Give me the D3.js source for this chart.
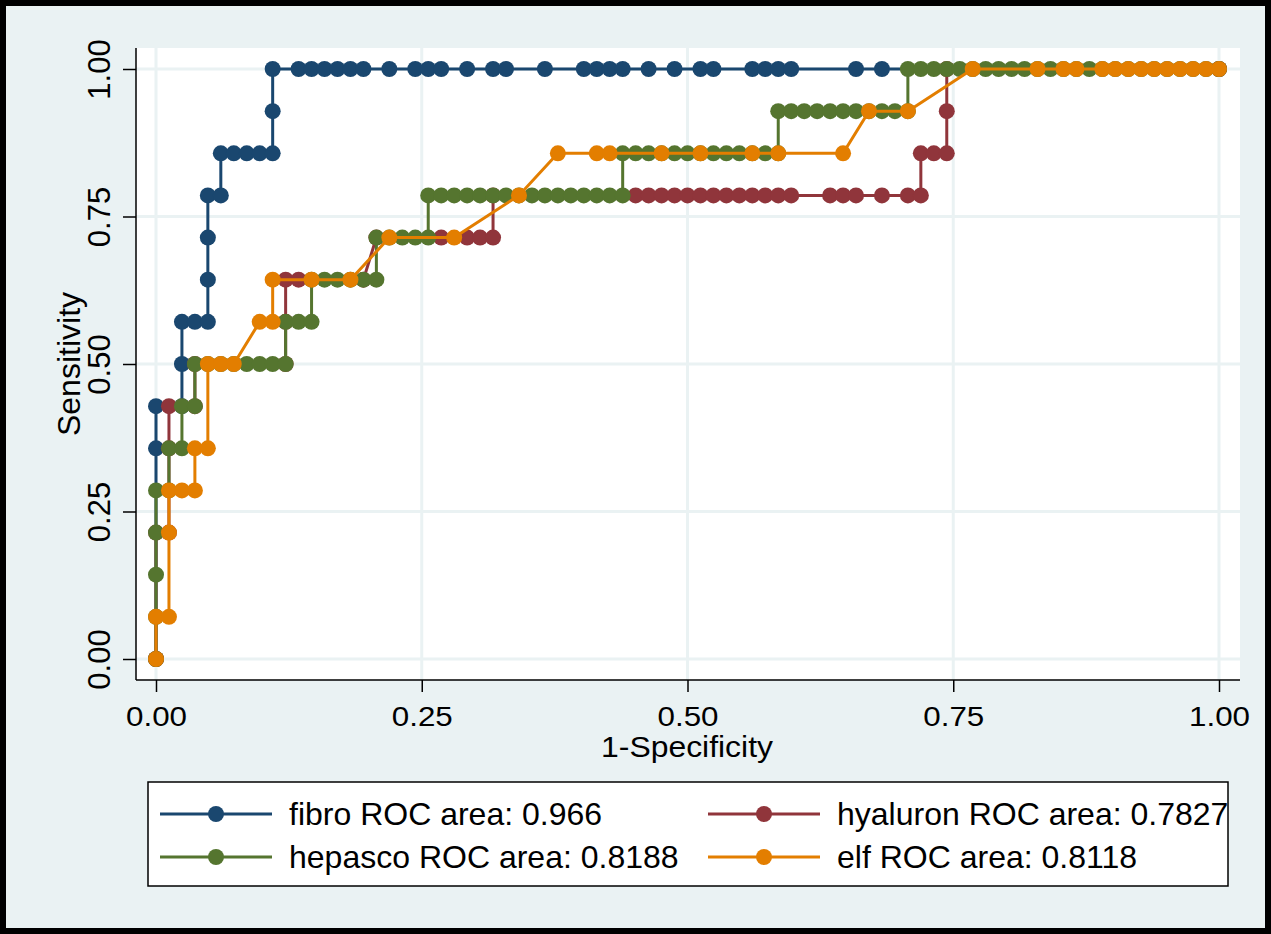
<!DOCTYPE html>
<html>
<head>
<meta charset="utf-8">
<script src="https://cdn.jsdelivr.net/npm/d3@7"></script>
<style>
    body { margin: 0; background: #fff; }
    text { font-family: "Liberation Sans", Arial, sans-serif; fill: #000; }
</style>
</head>
<body>
<div id="chart"></div>
<script>
// counts: 82 negatives, 14 positives
const NEG = 82;
const POS = 14;

const fibroFP = [0,0,0,2,2,2,3,4,4,4,4,5,5,6,7,8,9,9,9,
    11,12,13,14,15,16,18,20,21,22,24,26,27,30,33,34,35,36,38,40,42,43,46,47,48,49,54,56,82];
const fibroTP = [0,5,6,6,7,8,8,8,9,10,11,11,12,12,12,12,12,13,14,
    14,14,14,14,14,14,14,14,14,14,14,14,14,14,14,14,14,14,14,14,14,14,14,14,14,14,14,14,14];

const hyalFP = [0,0,1,1,1,3,3,10,10,10,11,16,17,22,24,25,26,26,
    37,38,39,40,41,42,43,44,45,46,47,48,49,
    52,53,54,56,58,59,
    59,60,61,61,61,82];
const hyalTP = [0,3,3,5,6,6,7,7,8,9,9,9,10,10,10,10,10,11,
    11,11,11,11,11,11,11,11,11,11,11,11,11,
    11,11,11,11,11,11,
    12,12,12,13,14,14];

const hepFP = [0,0,0,0,0,
    1,1,2,2,3,
    3,4,5,6,7,8,9,10,
    10,11,12,
    12,13,14,15,16,17,
    17,18,19,20,21,
    21,22,23,24,25,26,27,28,29,30,31,32,33,34,35,36,
    36,37,38,39,40,41,42,43,44,45,46,47,48,
    48,49,50,51,52,53,54,55,56,57,58,
    58,59,60,61,62,63,64,65,66,67,68,69,70,71,72,73,74,75,76,77,78,79,80,81,82];
const hepTP = [0,1,2,3,4,
    4,5,5,6,6,
    7,7,7,7,7,7,7,7,
    8,8,8,
    9,9,9,9,9,9,
    10,10,10,10,10,
    11,11,11,11,11,11,11,11,11,11,11,11,11,11,11,11,
    12,12,12,12,12,12,12,12,12,12,12,12,12,
    13,13,13,13,13,13,13,13,13,13,13,
    14,14,14,14,14,14,14,14,14,14,14,14,14,14,14,14,14,14,14,14,14,14,14,14,14];

const elfFP = [0,0,1,1,1,2,3,3,4,4,5,6,8,9,9,12,15,18,23,28,
    31,34,35,39,42,46,48,53,55,58,63,68,70,71,
    73,74,75,76,77,78,79,80,81,82];
const elfTP = [0,1,1,3,4,4,4,5,5,7,7,7,8,8,9,9,9,10,10,11,
    12,12,12,12,12,12,12,12,13,13,14,14,14,14,
    14,14,14,14,14,14,14,14,14,14];

const seriesNames = ["fibro", "hyaluron", "hepasco", "elf"];
const seriesAreas = ["0.966", "0.7827", "0.8188", "0.8118"];
const seriesFP = [fibroFP, hyalFP, hepFP, elfFP];
const seriesTP = [fibroTP, hyalTP, hepTP, elfTP];
const seriesColors = ["#1A476F", "#90353B", "#55752F", "#E37E00"];

const tickValues = [0, 0.25, 0.5, 0.75, 1];

const width = 1271, height = 934;
const plot = {left: 136, right: 1240, top: 48, bottom: 680};

const svg = d3.select("#chart").append("svg")
    .attr("width", width)
    .attr("height", height);

// graph region + black frame
svg.append("rect")
    .attr("x", 3).attr("y", 3)
    .attr("width", width - 6).attr("height", height - 6)
    .attr("fill", "#EAF2F3")
    .attr("stroke", "#000")
    .attr("stroke-width", 6);

svg.append("rect")
    .attr("x", plot.left).attr("y", plot.top)
    .attr("width", plot.right - plot.left)
    .attr("height", plot.bottom - plot.top)
    .attr("fill", "#fff");

const x = d3.scaleLinear().domain([0, 1]).range([156, 1219]);
const y = d3.scaleLinear().domain([0, 1]).range([659, 69]);

// grid
svg.append("g").selectAll("line")
    .data(tickValues)
    .enter().append("line")
    .attr("x1", plot.left).attr("x2", plot.right)
    .attr("y1", d => y(d)).attr("y2", d => y(d))
    .attr("stroke", "#EAF2F3").attr("stroke-width", 3);
svg.append("g").selectAll("line")
    .data(tickValues)
    .enter().append("line")
    .attr("y1", plot.top).attr("y2", plot.bottom)
    .attr("x1", d => x(d)).attr("x2", d => x(d))
    .attr("stroke", "#EAF2F3").attr("stroke-width", 3);

// axes
const xAxis = svg.append("g")
    .attr("transform", `translate(0,${plot.bottom})`)
    .call(d3.axisBottom(x).tickValues(tickValues).tickFormat(d3.format(".2f"))
        .tickSize(12).tickSizeOuter(0));
xAxis.select(".domain").remove();
xAxis.selectAll("line").attr("stroke", "#000").attr("stroke-width", 1.5);
xAxis.selectAll("text")
    .attr("y", 46).attr("dy", 0)
    .attr("transform", "scale(1.12,1)")
    .style("font-size", "28px")
    .style("font-family", "Liberation Sans, Arial, sans-serif");

const yAxis = svg.append("g")
    .attr("transform", `translate(${plot.left},0)`)
    .call(d3.axisLeft(y).tickValues(tickValues).tickFormat(d3.format(".2f"))
        .tickSize(13).tickSizeOuter(0));
yAxis.select(".domain").remove();
yAxis.selectAll("line").attr("stroke", "#000").attr("stroke-width", 1.5);
yAxis.selectAll("text")
    .attr("x", 0).attr("dy", 0)
    .attr("text-anchor", "middle")
    .attr("transform", "translate(-26,0) rotate(-90)")
    .style("font-size", "31px")
    .style("font-family", "Liberation Sans, Arial, sans-serif");

svg.append("line")
    .attr("x1", plot.left).attr("x2", plot.left)
    .attr("y1", plot.top).attr("y2", plot.bottom)
    .attr("stroke", "#000").attr("stroke-width", 1.5);
svg.append("line")
    .attr("x1", plot.left).attr("x2", plot.right)
    .attr("y1", plot.bottom).attr("y2", plot.bottom)
    .attr("stroke", "#000").attr("stroke-width", 1.5);

svg.append("text")
    .attr("transform", "translate(687,757) scale(1.1,1)")
    .attr("text-anchor", "middle")
    .style("font-size", "29px")
    .text("1-Specificity");

svg.append("text")
    .attr("transform", "translate(80,364) rotate(-90)")
    .attr("text-anchor", "middle")
    .style("font-size", "32px")
    .text("Sensitivity");

// curves
const line = d3.line().x(d => x(d[0])).y(d => y(d[1]));

seriesNames.forEach((name, i) => {
    const pts = seriesFP[i].map((fp, k) => [fp / NEG, seriesTP[i][k] / POS]);
    const g = svg.append("g").attr("class", "roc-" + name);
    g.append("path")
        .datum(pts)
        .attr("d", line)
        .attr("fill", "none")
        .attr("stroke", seriesColors[i])
        .attr("stroke-width", 3);
    g.selectAll("circle")
        .data(pts)
        .enter().append("circle")
        .attr("cx", d => x(d[0]))
        .attr("cy", d => y(d[1]))
        .attr("r", 8)
        .attr("fill", seriesColors[i]);
});

// legend
const legend = svg.append("g");
legend.append("rect")
    .attr("x", 148).attr("y", 782)
    .attr("width", 1080).attr("height", 104)
    .attr("fill", "#fff")
    .attr("stroke", "#000")
    .attr("stroke-width", 1.5);

const legendCols = [160, 708];
const legendRows = [814, 857];

seriesNames.forEach((name, i) => {
    const lx = legendCols[i % 2];
    const ly = legendRows[Math.floor(i / 2)];
    legend.append("line")
        .attr("x1", lx).attr("x2", lx + 112)
        .attr("y1", ly).attr("y2", ly)
        .attr("stroke", seriesColors[i])
        .attr("stroke-width", 3);
    legend.append("circle")
        .attr("cx", lx + 56).attr("cy", ly)
        .attr("r", 8)
        .attr("fill", seriesColors[i]);
    legend.append("text")
        .attr("x", lx + 129).attr("y", ly + 11)
        .style("font-size", "32px")
        .text(name + " ROC area: " + seriesAreas[i]);
});
</script>
</body>
</html>
